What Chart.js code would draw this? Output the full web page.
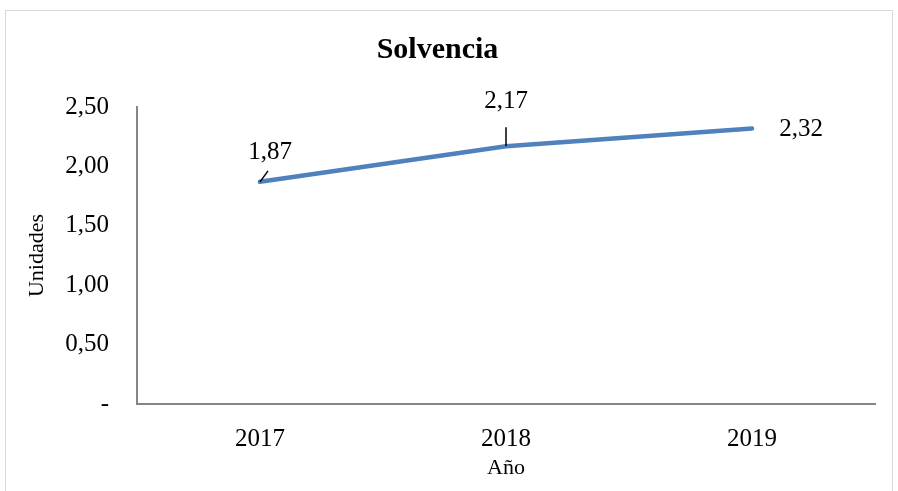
<!DOCTYPE html>
<html>
<head>
<meta charset="utf-8">
<script src="https://cdn.jsdelivr.net/npm/chart.js@4"></script>
<style>
html,body{margin:0;padding:0;background:#fff;}
#wrap{width:898px;height:491px;position:relative;}
</style>
</head>
<body>
<div id="wrap"><canvas id="c" width="898" height="491"></canvas></div>
<script>
const categories = ['2017', '2018', '2019'];
const solvencia = [1.87, 2.17, 2.32];
const yTicks = [0, 0.5, 1, 1.5, 2, 2.5];

const FONT = "'Liberation Serif', 'DejaVu Serif', serif";

function fmt(v) {
  if (v === 0) return '-';
  return v.toFixed(2).replace('.', ',');
}

// label placement styles (offsets in px relative to point), per index
const labelStyle = [
  { dx: 10, dy: -29, leader: [[0, 0], [8, -11]] },
  { dx: 0, dy: -45, leader: [[0, 0], [0, -19]] },
  { dx: 49, dy: 1, leader: null }
];

const borderPlugin = {
  id: 'outerBorder',
  beforeDraw(chart) {
    const ctx = chart.ctx;
    ctx.save();
    ctx.fillStyle = '#fff';
    ctx.fillRect(0, 0, chart.width, chart.height);
    ctx.strokeStyle = '#d9d9d9';
    ctx.lineWidth = 1;
    ctx.strokeRect(5.5, 10.5, 887, 500);
    ctx.restore();
  }
};

const labelPlugin = {
  id: 'dataLabels',
  afterDatasetsDraw(chart) {
    const ctx = chart.ctx;
    const meta = chart.getDatasetMeta(0);
    ctx.save();
    ctx.font = '25px ' + FONT;
    ctx.fillStyle = '#000';
    ctx.textAlign = 'center';
    ctx.textBaseline = 'middle';
    meta.data.forEach((pt, i) => {
      const s = labelStyle[i];
      if (s.leader) {
        ctx.beginPath();
        ctx.strokeStyle = '#000';
        ctx.lineWidth = 1.5;
        ctx.moveTo(pt.x + s.leader[0][0], pt.y + s.leader[0][1]);
        ctx.lineTo(pt.x + s.leader[1][0], pt.y + s.leader[1][1]);
        ctx.stroke();
      }
      ctx.fillText(fmt(solvencia[i]), pt.x + s.dx, pt.y + s.dy);
    });
    ctx.restore();
  }
};

new Chart(document.getElementById('c'), {
  type: 'line',
  data: {
    labels: categories,
    datasets: [{
      data: solvencia,
      borderColor: '#4F81BD',
      borderWidth: 4.5,
      pointRadius: 0,
      tension: 0,
      fill: false,
      borderCapStyle: 'round'
    }]
  },
  options: {
    responsive: false,
    animation: false,
    devicePixelRatio: 1,
    layout: { padding: { left: 0, right: 23, top: 0, bottom: 0 } },
    plugins: {
      legend: { display: false },
      tooltip: { enabled: false },
      title: {
        display: true,
        text: 'Solvencia',
        color: '#000',
        font: { family: FONT, size: 30, weight: 'bold' },
        padding: { top: 32, bottom: 39 }
      }
    },
    scales: {
      x: {
        offset: true,
        grid: { display: false, drawTicks: false },
        border: { display: true, color: '#868686', width: 2 },
        ticks: { color: '#000', font: { family: FONT, size: 25 }, padding: 20 },
        title: { display: true, text: 'Año', color: '#000', font: { family: FONT, size: 22 }, padding: { top: 4, bottom: 10 } },
        afterFit(scale) { scale.height = 87; }
      },
      y: {
        min: 0,
        max: 2.5,
        afterBuildTicks(scale) { scale.ticks = yTicks.map(v => ({ value: v })); },
        grid: { display: false, drawTicks: false },
        border: { display: true, color: '#868686', width: 2 },
        ticks: { color: '#000', font: { family: FONT, size: 25 }, padding: 28, callback: (v) => fmt(v) },
        title: { display: true, text: 'Unidades', color: '#000', font: { family: FONT, size: 22 }, padding: { top: 24, bottom: 0 } },
        afterFit(scale) { scale.width = 137; }
      }
    }
  },
  plugins: [borderPlugin, labelPlugin]
});
</script>
</body>
</html>
